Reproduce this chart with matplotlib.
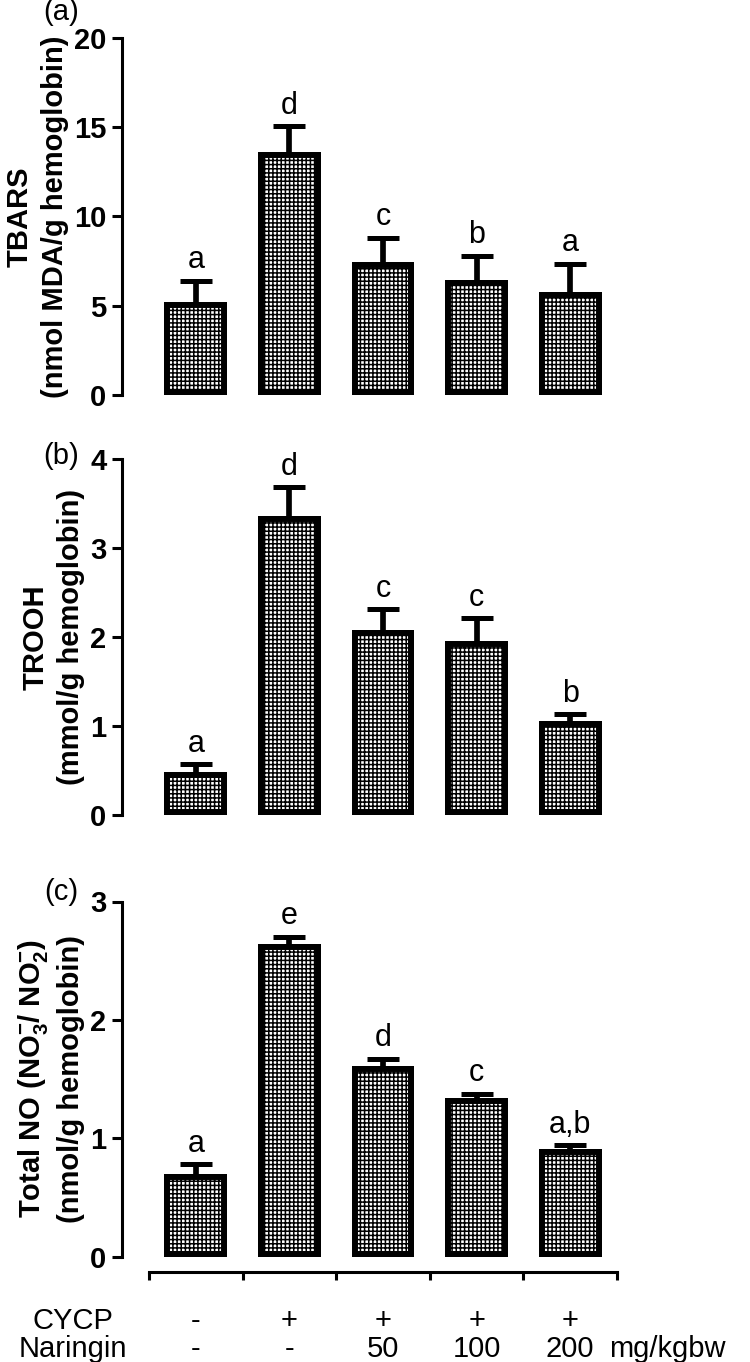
import matplotlib
matplotlib.use("Agg")
import matplotlib.pyplot as plt
import matplotlib.transforms as mtransforms
import numpy as np

plt.rcParams['font.family'] = ['Liberation Sans', 'DejaVu Sans']
plt.rcParams['mathtext.fontset'] = 'custom'
plt.rcParams['mathtext.rm'] = 'Liberation Sans:bold'
plt.rcParams['mathtext.default'] = 'rm'
plt.rcParams['hatch.linewidth'] = 1.1

# ---- data ----
groups = ["Control", "CYCP", "CYCP+N50", "CYCP+N100", "CYCP+N200"]
cycp_row = ["-", "+", "+", "+", "+"]
naringin_row = ["-", "-", "50", "100", "200"]

tbars_mean = [5.2, 13.6, 7.45, 6.45, 5.75]
tbars_sem = [1.2, 1.45, 1.35, 1.35, 1.6]
tbars_letters = ["a", "d", "c", "b", "a"]

trooh_mean = [0.48, 3.36, 2.08, 1.95, 1.06]
trooh_sem = [0.09, 0.32, 0.23, 0.26, 0.07]
trooh_letters = ["a", "d", "c", "c", "b"]

no_mean = [0.70, 2.64, 1.61, 1.34, 0.91]
no_sem = [0.08, 0.06, 0.06, 0.035, 0.03]
no_letters = ["a", "e", "d", "c", "a,b"]

panels = [
    ("(a)", "TBARS\n(nmol MDA/g hemoglobin)", tbars_mean, tbars_sem, tbars_letters, 20, 5),
    ("(b)", "TROOH\n(mmol/g hemoglobin)", trooh_mean, trooh_sem, trooh_letters, 4, 1),
    ("(c)", "Total NO (NO$_3^{-}$/ NO$_2^{-}$)\n(nmol/g hemoglobin)", no_mean, no_sem, no_letters, 3, 1),
]

W, H = 750, 1362
fig = plt.figure(figsize=(W / 100, H / 100), dpi=100)

# axes boxes in pixels: (bottom_y, top_y)
boxes = [(395, 37.7), (815, 459), (1256.5, 901.5)]
left_px, right_px = 122, 617
unit_px = (617 - 149) / 5.0
xleft = -0.5 - (149 - left_px) / unit_px

label_pos = [(61, 12), (61, 456), (61, 892)]

x = np.arange(len(groups))
axes = []
for i, (plab, ylab, mean, sem, letters, ymax, step) in enumerate(panels):
    yb, yt = boxes[i]
    ax = fig.add_axes([left_px / W, 1 - yb / H, (right_px - left_px) / W, (yb - yt) / H])
    axes.append(ax)
    bars = ax.bar(x, mean, width=0.673, color="white", edgecolor="black",
                  linewidth=8.6, hatch="++++", zorder=3)
    for b in bars:
        b.set_clip_path(b)
    eb = ax.errorbar(x, mean, yerr=[np.zeros(len(mean)), sem], fmt="none",
                     ecolor="black", elinewidth=4.1, capsize=11.2, capthick=3.6, zorder=2)
    eb[1][0].set_visible(False)  # hide lower caps
    for xi, m, s, l in zip(x, mean, sem, letters):
        ax.annotate(l, (xi, m + s), xytext=(0, 9.0), textcoords="offset points",
                    ha="center", va="baseline", fontsize=22)
    ax.set_xlim(xleft, 4.5)
    ax.set_ylim(0, ymax)
    ticks = np.arange(0, ymax + 0.001, step)
    ax.set_yticks(ticks)
    ax.set_yticklabels([f"{int(v)}" for v in ticks], fontsize=21, fontweight="bold")
    ax.tick_params(axis="y", direction="out", length=7.2, width=2.2, pad=4)
    for sp in ["top", "right"]:
        ax.spines[sp].set_visible(False)
    ax.spines["left"].set_linewidth(2.2)
    ax.set_ylabel(ylab, fontsize=21, fontweight="bold", linespacing=1.3, labelpad=4)
    fig.text(label_pos[i][0] / W, 1 - label_pos[i][1] / H, plab, fontsize=21,
             ha="center", va="center")
    if i < 2:
        ax.spines["bottom"].set_visible(False)
        ax.set_xticks([])
    else:
        ax.spines["bottom"].set_position(("outward", 11.2))
        ax.spines["bottom"].set_bounds(-0.5, 4.5)
        ax.spines["bottom"].set_linewidth(2.2)
        ax.set_xticks(np.arange(-0.5, 4.51, 1))
        ax.set_xticklabels([])
        ax.tick_params(axis="x", direction="out", length=5.8, width=2.2)

axc = axes[2]
tr = mtransforms.blended_transform_factory(axc.transData, fig.transFigure)
row1_y = 1 - 1329 / H
row2_y = 1 - 1357 / H
fs_row = 21
for xi, c, n in zip(x, cycp_row, naringin_row):
    fig.text(xi, row1_y, c, transform=tr, ha="center", va="baseline", fontsize=fs_row)
    fig.text(xi, row2_y, n, transform=tr, ha="center", va="baseline", fontsize=fs_row)
fig.text(609 / W, row2_y, "mg/kgbw", ha="left", va="baseline", fontsize=fs_row)
fig.text(73 / W, row1_y, "CYCP", ha="center", va="baseline", fontsize=fs_row)
fig.text(73 / W, row2_y, "Naringin", ha="center", va="baseline", fontsize=fs_row)

fig.savefig("out.png", dpi=100)
